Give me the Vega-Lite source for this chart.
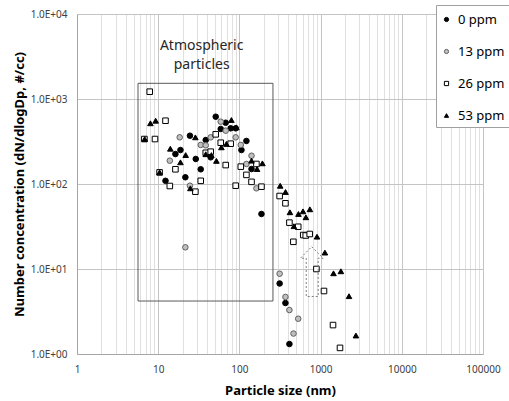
{
  "$schema": "https://vega.github.io/schema/vega-lite/v6.json",
  "width": 406,
  "height": 340,
  "autosize": {"type": "none"},
  "padding": {"left": 77, "top": 14, "right": 26, "bottom": 47},
  "background": "white",
  "config": {"view": {"stroke": null}, "font": "Noto Sans"},
  "datasets": {
    "pts": [
      {"x": 12.3, "y": 109, "s": "0 ppm"}, {"x": 16.3, "y": 225, "s": "0 ppm"}, {"x": 18.8, "y": 251, "s": "0 ppm"},
      {"x": 21.6, "y": 120, "s": "0 ppm"}, {"x": 24.6, "y": 370, "s": "0 ppm"}, {"x": 29.0, "y": 197, "s": "0 ppm"},
      {"x": 33.4, "y": 149, "s": "0 ppm"}, {"x": 38.5, "y": 329, "s": "0 ppm"}, {"x": 44.3, "y": 206, "s": "0 ppm"},
      {"x": 51.1, "y": 619, "s": "0 ppm"}, {"x": 58.9, "y": 444, "s": "0 ppm"}, {"x": 67.8, "y": 526, "s": "0 ppm"},
      {"x": 78.1, "y": 452, "s": "0 ppm"}, {"x": 90.0, "y": 452, "s": "0 ppm"}, {"x": 106, "y": 251, "s": "0 ppm"},
      {"x": 122, "y": 321, "s": "0 ppm"}, {"x": 141, "y": 150, "s": "0 ppm"}, {"x": 187, "y": 44.4, "s": "0 ppm"},
      {"x": 313, "y": 6.75, "s": "0 ppm"}, {"x": 369, "y": 3.98, "s": "0 ppm"}, {"x": 413, "y": 1.31, "s": "0 ppm"},
      {"x": 13.9, "y": 188, "s": "13 ppm"}, {"x": 18.4, "y": 354, "s": "13 ppm"}, {"x": 21.6, "y": 18.0, "s": "13 ppm"},
      {"x": 24.6, "y": 95.5, "s": "13 ppm"}, {"x": 33.4, "y": 288, "s": "13 ppm"}, {"x": 38.5, "y": 285, "s": "13 ppm"},
      {"x": 44.3, "y": 354, "s": "13 ppm"}, {"x": 58.9, "y": 541, "s": "13 ppm"}, {"x": 67.8, "y": 424, "s": "13 ppm"},
      {"x": 90.0, "y": 354, "s": "13 ppm"}, {"x": 104, "y": 288, "s": "13 ppm"}, {"x": 122, "y": 172, "s": "13 ppm"},
      {"x": 141, "y": 215, "s": "13 ppm"}, {"x": 162, "y": 89, "s": "13 ppm"}, {"x": 313, "y": 8.8, "s": "13 ppm"},
      {"x": 369, "y": 4.69, "s": "13 ppm"}, {"x": 413, "y": 3.29, "s": "13 ppm"}, {"x": 530, "y": 2.6, "s": "13 ppm"},
      {"x": 464, "y": 1.74, "s": "13 ppm"},
      {"x": 7.86, "y": 1219, "s": "26 ppm"}, {"x": 12.3, "y": 555, "s": "26 ppm"}, {"x": 6.76, "y": 338, "s": "26 ppm"},
      {"x": 9.13, "y": 338, "s": "26 ppm"}, {"x": 10.4, "y": 137, "s": "26 ppm"}, {"x": 13.9, "y": 94.7, "s": "26 ppm"},
      {"x": 16.3, "y": 149, "s": "26 ppm"}, {"x": 28.7, "y": 81.2, "s": "26 ppm"}, {"x": 33.4, "y": 109, "s": "26 ppm"},
      {"x": 38.5, "y": 233, "s": "26 ppm"}, {"x": 44.3, "y": 240, "s": "26 ppm"}, {"x": 51.1, "y": 384, "s": "26 ppm"},
      {"x": 58.9, "y": 306, "s": "26 ppm"}, {"x": 78.1, "y": 298, "s": "26 ppm"}, {"x": 67.8, "y": 167, "s": "26 ppm"},
      {"x": 90.0, "y": 95.5, "s": "26 ppm"}, {"x": 104, "y": 160, "s": "26 ppm"}, {"x": 122, "y": 128, "s": "26 ppm"},
      {"x": 141, "y": 106, "s": "26 ppm"}, {"x": 162, "y": 172, "s": "26 ppm"}, {"x": 187, "y": 93, "s": "26 ppm"},
      {"x": 313, "y": 72.2, "s": "26 ppm"}, {"x": 369, "y": 59.3, "s": "26 ppm"}, {"x": 413, "y": 35.1, "s": "26 ppm"},
      {"x": 530, "y": 31.4, "s": "26 ppm"}, {"x": 611, "y": 25.1, "s": "26 ppm"}, {"x": 656, "y": 24.8, "s": "26 ppm"},
      {"x": 734, "y": 25.8, "s": "26 ppm"}, {"x": 462, "y": 20.9, "s": "26 ppm"}, {"x": 888, "y": 10, "s": "26 ppm"},
      {"x": 1101, "y": 5.51, "s": "26 ppm"}, {"x": 1422, "y": 2.19, "s": "26 ppm"}, {"x": 1733, "y": 1.18, "s": "26 ppm"},
      {"x": 8.02, "y": 518, "s": "53 ppm"}, {"x": 9.31, "y": 555, "s": "53 ppm"}, {"x": 6.82, "y": 338, "s": "53 ppm"},
      {"x": 10.4, "y": 137, "s": "53 ppm"}, {"x": 14.1, "y": 260, "s": "53 ppm"}, {"x": 21.8, "y": 219, "s": "53 ppm"},
      {"x": 18.8, "y": 180, "s": "53 ppm"}, {"x": 28.7, "y": 354, "s": "53 ppm"}, {"x": 24.9, "y": 89, "s": "53 ppm"},
      {"x": 38.5, "y": 224, "s": "53 ppm"}, {"x": 45.2, "y": 219, "s": "53 ppm"}, {"x": 52.1, "y": 187, "s": "53 ppm"},
      {"x": 60, "y": 270, "s": "53 ppm"}, {"x": 69.2, "y": 296, "s": "53 ppm"}, {"x": 79.7, "y": 566, "s": "53 ppm"},
      {"x": 91.8, "y": 464, "s": "53 ppm"}, {"x": 141, "y": 188, "s": "53 ppm"}, {"x": 165, "y": 150, "s": "53 ppm"},
      {"x": 192, "y": 175, "s": "53 ppm"}, {"x": 318, "y": 95.3, "s": "53 ppm"}, {"x": 370, "y": 80.5, "s": "53 ppm"},
      {"x": 419, "y": 46.5, "s": "53 ppm"}, {"x": 534, "y": 44.4, "s": "53 ppm"}, {"x": 607, "y": 47.7, "s": "53 ppm"},
      {"x": 738, "y": 50.4, "s": "53 ppm"}, {"x": 659, "y": 40.6, "s": "53 ppm"}, {"x": 469, "y": 31.9, "s": "53 ppm"},
      {"x": 903, "y": 24, "s": "53 ppm"}, {"x": 1130, "y": 15.6, "s": "53 ppm"}, {"x": 1442, "y": 8.9, "s": "53 ppm"},
      {"x": 1778, "y": 9.4, "s": "53 ppm"}, {"x": 2238, "y": 4.79, "s": "53 ppm"}, {"x": 2722, "y": 1.65, "s": "53 ppm"}
    ],
    "box": [{"x": 5.64, "x2": 259, "y": 4.2, "y2": 1530}],
    "arrow": [
      {"x": 777, "y": 18.3, "o": 1}, {"x": 1076, "y": 13.4, "o": 2}, {"x": 934, "y": 13.4, "o": 3},
      {"x": 934, "y": 4.75, "o": 4}, {"x": 665, "y": 4.75, "o": 5}, {"x": 665, "y": 13.4, "o": 6},
      {"x": 564, "y": 13.4, "o": 7}, {"x": 777, "y": 18.3, "o": 8}
    ],
    "label": [{"x": 34.3, "y": 4200, "t": "Atmospheric\nparticles"}]
  },
  "layer": [
    {
      "data": {"name": "pts"},
      "mark": {"type": "point", "size": 31, "opacity": 1, "fillOpacity": 1, "strokeWidth": 1},
      "encoding": {
        "x": {
          "field": "x", "type": "quantitative",
          "scale": {"type": "log", "domain": [1, 100000], "nice": false},
          "title": "Particle size (nm)",
          "axis": {
            "values": [1,2,3,4,5,6,7,8,9,10,20,30,40,50,60,70,80,90,100,200,300,400,500,600,700,800,900,1000,2000,3000,4000,5000,6000,7000,8000,9000,10000,20000,30000,40000,50000,60000,70000,80000,90000,100000],
            "labelExpr": "indexof([1,10,100,1000,10000,100000], datum.value) >= 0 ? format(datum.value, 'd') : ''",
            "labelOverlap": false,
            "labelBound": false,
            "labelFlush": false,
            "grid": true,
            "gridColor": {"condition": {"test": "indexof([1,10,100,1000,10000,100000], datum.value) >= 0", "value": "#c4c4c4"}, "value": "#e0e0e0"},
            "gridWidth": 1,
            "ticks": false,
            "domainColor": "#a6a6a6",
            "labelPadding": 10,
            "labelFontSize": 10,
            "labelColor": "#404040",
            "titleFontSize": 13,
            "titleFontWeight": "bold",
            "titleColor": "#000000",
            "titlePadding": 10
          }
        },
        "y": {
          "field": "y", "type": "quantitative",
          "scale": {"type": "log", "domain": [1, 10000], "nice": false},
          "title": "Number concentration (dN/dlogDp, #/cc)",
          "axis": {
            "values": [1, 10, 100, 1000, 10000],
            "labelExpr": "'1.0E+0' + round(log(datum.value) / LN10)",
            "grid": true,
            "gridColor": "#c4c4c4",
            "ticks": false,
            "domainColor": "#a6a6a6",
            "labelPadding": 10,
            "labelFontSize": 10,
            "labelColor": "#404040",
            "titleFontSize": 13,
            "titleFontWeight": "bold",
            "titleColor": "#000000",
            "titlePadding": 4
          }
        },
        "fill": {
          "field": "s", "type": "nominal",
          "scale": {"domain": ["0 ppm", "13 ppm", "26 ppm", "53 ppm"], "range": ["#000000", "#c0c0c0", "#ffffff", "#000000"]},
          "legend": {
            "orient": "none", "legendX": 359, "legendY": -9,
            "title": " ", "titleFontSize": 4, "titlePadding": 0,
            "padding": 4, "rowPadding": 18,
            "labelFontSize": 13, "labelColor": "#000000", "labelOffset": 5,
            "symbolSize": 18, "symbolStrokeWidth": 1,
            "strokeColor": "#a0a0a0", "fillColor": "#ffffff"
          }
        },
        "stroke": {
          "field": "s", "type": "nominal",
          "scale": {"domain": ["0 ppm", "13 ppm", "26 ppm", "53 ppm"], "range": ["#000000", "#606060", "#000000", "#000000"]}
        },
        "shape": {
          "field": "s", "type": "nominal",
          "scale": {"domain": ["0 ppm", "13 ppm", "26 ppm", "53 ppm"], "range": ["circle", "circle", "square", "triangle-up"]}
        }
      }
    },
    {
      "data": {"name": "box"},
      "mark": {"type": "rect", "fill": null, "fillOpacity": 0, "stroke": "#595959", "strokeWidth": 1},
      "encoding": {
        "x": {"field": "x", "type": "quantitative", "title": "Particle size (nm)"},
        "x2": {"field": "x2"},
        "y": {"field": "y", "type": "quantitative", "title": "Number concentration (dN/dlogDp, #/cc)"},
        "y2": {"field": "y2"}
      }
    },
    {
      "data": {"name": "arrow"},
      "mark": {"type": "line", "stroke": "#7f7f7f", "strokeWidth": 1, "strokeDash": [2, 2]},
      "encoding": {
        "x": {"field": "x", "type": "quantitative", "title": "Particle size (nm)"},
        "y": {"field": "y", "type": "quantitative", "title": "Number concentration (dN/dlogDp, #/cc)"},
        "order": {"field": "o", "type": "quantitative"}
      }
    },
    {
      "data": {"name": "label"},
      "mark": {"type": "text", "fontSize": 14, "lineBreak": "\n", "lineHeight": 19, "align": "center", "baseline": "middle", "color": "#262626"},
      "encoding": {
        "x": {"field": "x", "type": "quantitative", "title": "Particle size (nm)"},
        "y": {"field": "y", "type": "quantitative", "title": "Number concentration (dN/dlogDp, #/cc)"},
        "text": {"field": "t"}
      }
    }
  ]
}
